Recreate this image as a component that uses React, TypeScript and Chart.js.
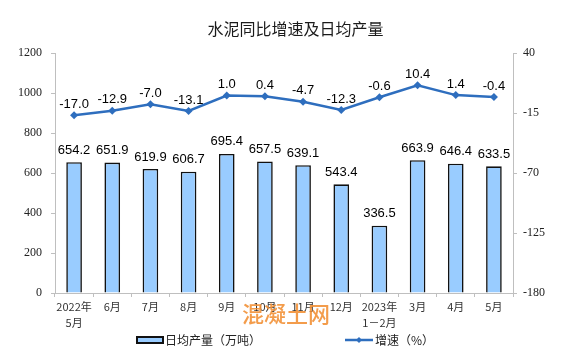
import React, { useEffect, useRef } from "react";
import { Chart, registerables } from "chart.js";

Chart.register(...registerables);

const categories: string[][] = [
  ["2022年", "5月"], ["6月"], ["7月"], ["8月"], ["9月"], ["10月"], ["11月"], ["12月"],
  ["2023年", "1－2月"], ["3月"], ["4月"], ["5月"],
];
const dailyOutput: number[] = [654.2, 651.9, 619.9, 606.7, 695.4, 657.5, 639.1, 543.4, 336.5, 663.9, 646.4, 633.5];
const growthRate: number[] = [-17.0, -12.9, -7.0, -13.1, 1.0, 0.4, -4.7, -12.3, -0.6, 10.4, 1.4, -0.4];

const titleText = "水泥同比增速及日均产量";
const barLabel = "日均产量（万吨）";
const lineLabel = "增速（%）";
const watermark = "混凝土网";

const BAR_FILL = "#99CCFF";
const LINE_COLOR = "#2E6EBE";
const AXIS_COLOR = "#BFBFBF";
const CJK = "'Noto Sans CJK SC', 'Noto Sans', sans-serif";
const SERIF = "'Liberation Serif', 'DejaVu Serif', serif";

const extrasPlugin = {
  id: "extras",
  afterDatasetsDraw(chart: any) {
    const ctx = chart.ctx;
    ctx.save();
    ctx.fillStyle = "#000";
    ctx.font = "13px 'Liberation Sans', Arial, sans-serif";
    ctx.textAlign = "center";
    ctx.textBaseline = "middle";
    chart.data.datasets.forEach((ds: any, i: number) => {
      const meta = chart.getDatasetMeta(i);
      meta.data.forEach((el: any, j: number) => {
        const v = ds.data[j] as number;
        const off = ds.type === "line" ? 11 : 12;
        ctx.fillText(v.toFixed(1), el.x, el.y - off);
      });
    });
    ctx.restore();
  },
  afterDraw(chart: any) {
    const ctx = chart.ctx;
    ctx.save();
    // title
    ctx.fillStyle = "#1a1a1a";
    ctx.font = `16px ${CJK}`;
    ctx.textAlign = "center";
    ctx.textBaseline = "middle";
    ctx.fillText(titleText, 295.5, 29);
    // legend: bar
    ctx.fillStyle = BAR_FILL;
    ctx.strokeStyle = "#111";
    ctx.lineWidth = 2;
    ctx.fillRect(137, 337, 26, 6);
    ctx.strokeRect(137, 337, 26, 6);
    ctx.fillStyle = "#222";
    ctx.font = `12px ${CJK}`;
    ctx.textAlign = "left";
    ctx.fillText(barLabel, 165, 340);
    // legend: line
    ctx.strokeStyle = LINE_COLOR;
    ctx.lineWidth = 2.5;
    ctx.beginPath();
    ctx.moveTo(345, 340);
    ctx.lineTo(373, 340);
    ctx.stroke();
    ctx.fillStyle = LINE_COLOR;
    ctx.beginPath();
    ctx.moveTo(359, 337);
    ctx.lineTo(362, 340);
    ctx.lineTo(359, 343);
    ctx.lineTo(356, 340);
    ctx.closePath();
    ctx.fill();
    ctx.fillStyle = "#222";
    ctx.fillText(lineLabel, 375, 340);
    // watermark
    ctx.fillStyle = "rgba(242, 145, 55, 0.9)";
    ctx.font = `500 22px ${CJK}`;
    ctx.textAlign = "left";
    ctx.fillText(watermark, 242, 314);
    ctx.restore();
  },
};

export default function App() {
  const ref = useRef<HTMLCanvasElement | null>(null);
  useEffect(() => {
    document.body.style.margin = "0";
    const canvas = ref.current!;
    const chart = new Chart(canvas, {
      type: "bar",
      data: {
        labels: categories,
        datasets: [
          {
            type: "line",
            label: lineLabel,
            data: growthRate,
            yAxisID: "y1",
            borderColor: LINE_COLOR,
            backgroundColor: LINE_COLOR,
            borderWidth: 2.5,
            pointStyle: "rectRot",
            pointRadius: 4,
            pointBorderWidth: 0,
            pointBackgroundColor: LINE_COLOR,
            tension: 0,
            order: 0,
          } as any,
          {
            type: "bar",
            label: barLabel,
            data: dailyOutput,
            yAxisID: "y",
            backgroundColor: BAR_FILL,
            borderColor: "#111",
            borderWidth: 1.6,
            barPercentage: 0.41,
            categoryPercentage: 1,
            order: 1,
          } as any,
        ],
      },
      options: {
        animation: false,
        responsive: false,
        maintainAspectRatio: false,
        layout: { padding: { top: 53, left: 0, right: 0, bottom: 24 } },
        plugins: {
          legend: { display: false },
          title: { display: false },
          tooltip: { enabled: false },
        },
        scales: {
          x: {
            offset: true,
            grid: {
              offset: true,
              drawOnChartArea: false,
              drawTicks: true,
              tickLength: 4,
              color: AXIS_COLOR,
            },
            border: { display: true, color: AXIS_COLOR, width: 1 },
            ticks: {
              color: "#333",
              font: { family: CJK, size: 11, lineHeight: 1.45 },
              padding: 2,
              maxRotation: 0,
              autoSkip: false,
            },
            afterFit: (s: any) => { s.height = 40; },
          },
          y: {
            position: "left",
            min: 0,
            max: 1200,
            ticks: {
              stepSize: 200,
              color: "#222",
              font: { family: SERIF, size: 12 },
              padding: 9,
              callback: (v: any) => String(v),
            },
            grid: { drawOnChartArea: false, tickLength: 4, color: AXIS_COLOR },
            border: { display: true, color: AXIS_COLOR, width: 1 },
            afterFit: (s: any) => { s.width = 55; },
          },
          y1: {
            position: "right",
            min: -180,
            max: 40,
            ticks: {
              stepSize: 55,
              color: "#222",
              font: { family: SERIF, size: 12 },
              padding: 6,
              callback: (v: any) => String(v),
            },
            grid: { drawOnChartArea: false, tickLength: 4, color: AXIS_COLOR },
            border: { display: true, color: AXIS_COLOR, width: 1 },
            afterFit: (s: any) => { s.width = 63; },
          },
        },
      },
      plugins: [extrasPlugin],
    });
    return () => chart.destroy();
  }, []);
  return <canvas ref={ref} width={576} height={357} style={{ display: "block", width: 576, height: 357 }} />;
}
